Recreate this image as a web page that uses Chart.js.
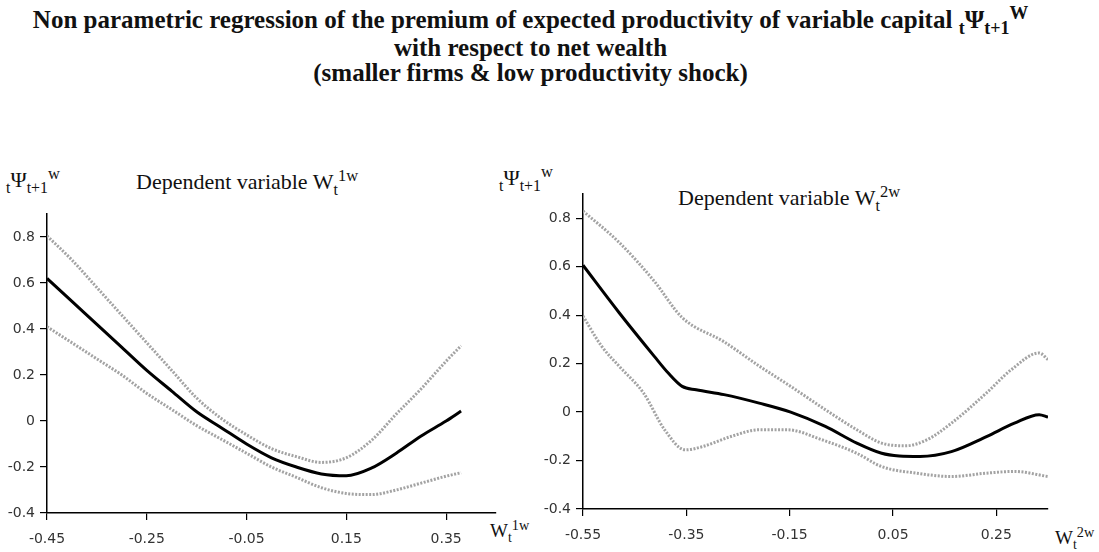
<!DOCTYPE html>
<html>
<head>
<meta charset="utf-8">
<script src="https://cdn.jsdelivr.net/npm/chart.js@4.4.0/dist/chart.umd.min.js"></script>
<style>
  body { margin: 0; width: 1099px; height: 552px; background: #fff; position: relative; overflow: hidden; font-family: "Liberation Serif", "Times New Roman", serif; color: #111; }
  .t { position: absolute; white-space: nowrap; line-height: 1; font-family: "Liberation Serif", serif; }
  .b { position: relative; top: 0.35em; font-size: 72%; }
  .p { position: relative; top: -0.5em; font-size: 75%; }
  #titulo { left: -19px; top: 7px; width: 1099px; text-align: center; font-weight: bold; font-size: 25px; line-height: 25px; font-family: "Liberation Serif", serif; }
  .cx { position: absolute; }
</style>
</head>
<body>

<div id="titulo" class="t">Non parametric regression of the premium of expected productivity of variable capital <span class="b">t</span>&Psi;<span class="b">t+1</span><span class="p">W</span><br>with respect to net wealth<br>(smaller firms &amp; low productivity shock)</div>

<div class="t" style="left:6px;top:169px;font-size:22px;"><span class="b">t</span>&Psi;<span class="b">t+1</span><span class="p">w</span></div>
<div class="t" style="left:136px;top:171px;font-size:22px;">Dependent variable W<span class="b">t</span><span class="p">1w</span></div>
<div class="t" style="left:490px;top:521px;font-size:19px;">W<span class="b">t</span><span class="p">1w</span></div>

<div class="t" style="left:499px;top:167px;font-size:22px;"><span class="b">t</span>&Psi;<span class="b">t+1</span><span class="p">w</span></div>
<div class="t" style="left:678px;top:187px;font-size:22px;">Dependent variable W<span class="b">t</span><span class="p">2w</span></div>
<div class="t" style="left:1055px;top:528px;font-size:19px;">W<span class="b">t</span><span class="p">2w</span></div>

<div class="cx" style="left:0px;top:200px;"><canvas id="graficoEsq" width="520" height="352"></canvas></div>
<div class="cx" style="left:540px;top:180px;"><canvas id="graficoDir" width="559" height="372"></canvas></div>

<script>
// painel esquerdo: W_t^1w
const esqMeioX = [-0.45, -0.40, -0.35, -0.30, -0.25, -0.20, -0.15, -0.10, -0.05, 0.00, 0.05, 0.10, 0.15, 0.20, 0.25, 0.30, 0.35, 0.38];
const esqMeioY = [0.62, 0.52, 0.42, 0.32, 0.22, 0.13, 0.04, -0.03, -0.10, -0.16, -0.20, -0.23, -0.238, -0.205, -0.14, -0.065, 0.0, 0.043];
const esqSupX = [-0.45, -0.40, -0.35, -0.30, -0.25, -0.20, -0.15, -0.10, -0.05, 0.00, 0.05, 0.10, 0.15, 0.20, 0.25, 0.30, 0.35, 0.38];
const esqSupY = [0.805, 0.70, 0.58, 0.46, 0.34, 0.22, 0.10, 0.01, -0.06, -0.12, -0.155, -0.18, -0.16, -0.085, 0.03, 0.14, 0.26, 0.327];
const esqInfX = [-0.45, -0.40, -0.35, -0.30, -0.25, -0.20, -0.15, -0.10, -0.05, 0.00, 0.05, 0.10, 0.15, 0.20, 0.25, 0.30, 0.35, 0.38];
const esqInfY = [0.41, 0.34, 0.27, 0.20, 0.12, 0.05, -0.02, -0.08, -0.14, -0.20, -0.245, -0.29, -0.315, -0.32, -0.30, -0.27, -0.24, -0.225];
const esqTicksX = [-0.45, -0.25, -0.05, 0.15, 0.35];

// painel direito: W_t^2w
const dirMeioX = [-0.55, -0.48, -0.412, -0.385, -0.358, -0.331, -0.277, -0.209, -0.148, -0.081, -0.02, 0.028, 0.062, 0.102, 0.163, 0.231, 0.285, 0.333, 0.35];
const dirMeioY = [0.606, 0.41, 0.23, 0.161, 0.106, 0.092, 0.072, 0.037, 0.0, -0.059, -0.128, -0.17, -0.181, -0.183, -0.163, -0.101, -0.046, -0.011, -0.021];
const dirSupX = [-0.55, -0.48, -0.412, -0.358, -0.277, -0.209, -0.148, -0.081, -0.02, 0.028, 0.075, 0.116, 0.163, 0.231, 0.279, 0.333, 0.35];
const dirSupY = [0.83, 0.70, 0.54, 0.39, 0.29, 0.19, 0.106, 0.01, -0.073, -0.128, -0.139, -0.114, -0.046, 0.079, 0.175, 0.244, 0.217];
const dirInfX = [-0.55, -0.514, -0.48, -0.433, -0.392, -0.352, -0.318, -0.264, -0.209, -0.155, -0.088, -0.02, 0.028, 0.095, 0.163, 0.231, 0.285, 0.35];
const dirInfY = [0.396, 0.272, 0.189, 0.079, -0.073, -0.156, -0.142, -0.101, -0.073, -0.073, -0.114, -0.17, -0.225, -0.252, -0.266, -0.252, -0.245, -0.266];
const dirTicksX = [-0.55, -0.35, -0.15, 0.05, 0.25];

const ticksY = [-0.4, -0.2, 0, 0.2, 0.4, 0.6, 0.8];

function pontos(xs, ys) {
  return xs.map((x, i) => ({ x: x, y: ys[i] }));
}

function banda(xs, ys) {
  return {
    data: pontos(xs, ys),
    borderColor: "#a3a3a3",
    borderWidth: 3,
    borderDash: [2, 1.5],
    pointRadius: 0,
    cubicInterpolationMode: "monotone",
  };
}

function gerarGrafico(id, series, xMin, xMax, ticksX, cfg) {
  const ctx = document.getElementById(id).getContext("2d");
  const eixo = {
    border: { color: "#000", width: 1.5 },
    grid: { drawOnChartArea: false, color: "#000", tickLength: 7, lineWidth: 1.2 },
  };
  new Chart(ctx, {
    type: "line",
    data: {
      datasets: [
        banda(series.supX, series.supY),
        banda(series.infX, series.infY),
        {
          data: pontos(series.meioX, series.meioY),
          borderColor: "#000",
          borderWidth: 3,
          pointRadius: 0,
          cubicInterpolationMode: "monotone",
        },
      ],
    },
    options: {
      responsive: false,
      animation: false,
      devicePixelRatio: 1,
      layout: { padding: { top: cfg.topo, right: cfg.direita, left: 0, bottom: 0 } },
      plugins: { legend: { display: false }, tooltip: { enabled: false } },
      scales: {
        x: {
          type: "linear",
          min: xMin,
          max: xMax,
          ...eixo,
          afterBuildTicks: s => { s.ticks = ticksX.map(v => ({ value: v })); },
          afterFit: s => { s.height = cfg.altX; },
          ticks: {
            padding: 11,
            color: "#333",
            font: { family: "DejaVu Sans", size: 14 },
            maxRotation: 0,
            callback: v => String(v),
          },
        },
        y: {
          type: "linear",
          min: -0.4,
          max: 0.9,
          ...eixo,
          afterBuildTicks: s => { s.ticks = ticksY.map(v => ({ value: v })); },
          afterFit: s => { s.width = cfg.largY; },
          ticks: {
            padding: 5,
            color: "#333",
            font: { family: "DejaVu Sans", size: 14 },
            callback: v => String(v),
          },
        },
      },
    },
  });
}

gerarGrafico("graficoEsq",
  { meioX: esqMeioX, meioY: esqMeioY, supX: esqSupX, supY: esqSupY, infX: esqInfX, infY: esqInfY },
  -0.45, 0.45, esqTicksX,
  { topo: 14, direita: 24, largY: 47, altX: 39 });

gerarGrafico("graficoDir",
  { meioX: dirMeioX, meioY: dirMeioY, supX: dirSupX, supY: dirSupY, infX: dirInfX, infY: dirInfY },
  -0.55, 0.35, dirTicksX,
  { topo: 14, direita: 51, largY: 43, altX: 43 });
</script>
</body>
</html>
